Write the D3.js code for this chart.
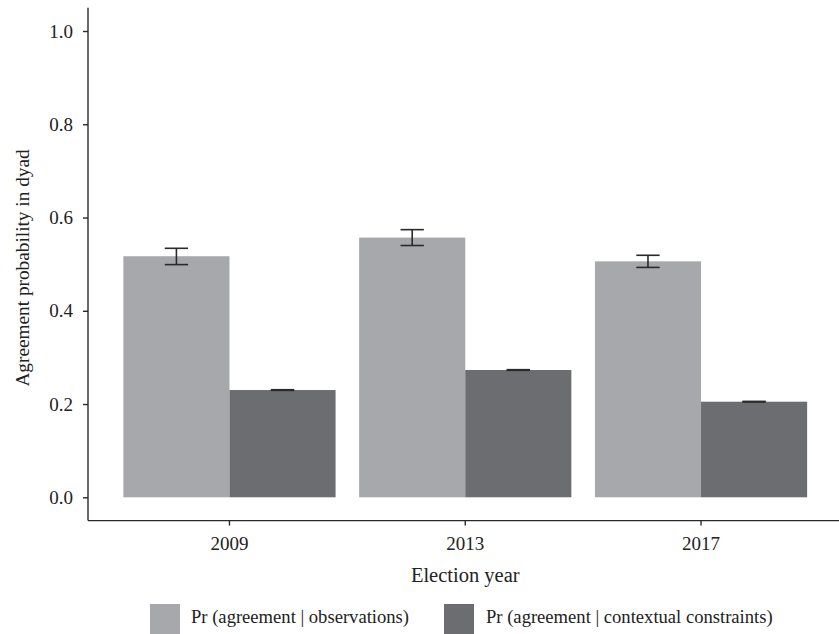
<!DOCTYPE html>
<meta charset="utf-8">
<style type="text/css">
	body { margin: 0; background: #fff; }
	text { font-family: "Liberation Serif", "DejaVu Serif", serif; fill: #222; }
	.axis path, .axis line { stroke: #2a2a2a; stroke-width: 1.4; }
	.err { stroke: #2a2a2a; stroke-width: 1.6; fill: none; }
</style>
<svg width="839" height="634"></svg>
<script src="https://d3js.org/d3.v7.min.js"></script>
<script type="text/javascript">
	// chart data
	var years = ["2009", "2013", "2017"];
	var series = ["observations", "constraints"];
	var seriesLabels = ["Pr (agreement | observations)", "Pr (agreement | contextual constraints)"];
	var obsValues = [0.517, 0.557, 0.506];
	var obsLow = [0.499, 0.540, 0.493];
	var obsHigh = [0.534, 0.574, 0.519];
	var conValues = [0.230, 0.273, 0.205];
	var conLow = [0.2293, 0.2723, 0.2043];
	var conHigh = [0.2307, 0.2737, 0.2057];
	var yTicks = [0, 0.2, 0.4, 0.6, 0.8, 1.0];

	var svg = d3.select("svg");
	var colors = d3.scaleOrdinal().domain(series).range(["#a7a8ab", "#6c6d70"]);

	var mLeft = 88, mRight = 842.5, mTop = 7.7, mBottom = 520.6;

	var x = d3.scaleBand().domain(years).range([mLeft, mRight]).paddingInner(0.1).paddingOuter(0.15);
	var xs = d3.scaleBand().domain(series).range([0, x.bandwidth()]).padding(0);
	var y = d3.scaleLinear().domain([-0.05, 1.05]).range([mBottom, mTop]);

	var rows = years.map(function(yr, i) {
		return [
			{year: yr, key: "observations", v: obsValues[i], lo: obsLow[i], hi: obsHigh[i]},
			{year: yr, key: "constraints", v: conValues[i], lo: conLow[i], hi: conHigh[i]}
		];
	});

	var g = svg.append("g").selectAll("g").data(rows).enter().append("g")
		.attr("transform", function(d) { return "translate(" + x(d[0].year) + ",0)"; });

	g.selectAll("rect").data(function(d) { return d; }).enter().append("rect")
		.attr("x", function(d) { return xs(d.key); })
		.attr("width", xs.bandwidth())
		.attr("y", function(d) { return y(d.v); })
		.attr("height", function(d) { return y(0) - y(d.v); })
		.attr("fill", function(d) { return colors(d.key); });

	var capW = xs.bandwidth() * 0.22;
	var eb = g.selectAll("g.eb").data(function(d) { return d; }).enter().append("g").attr("class", "err");
	eb.append("line")
		.attr("x1", function(d) { return xs(d.key) + xs.bandwidth() / 2; })
		.attr("x2", function(d) { return xs(d.key) + xs.bandwidth() / 2; })
		.attr("y1", function(d) { return y(d.lo); })
		.attr("y2", function(d) { return y(d.hi); });
	eb.append("line")
		.attr("x1", function(d) { return xs(d.key) + xs.bandwidth() / 2 - capW / 2; })
		.attr("x2", function(d) { return xs(d.key) + xs.bandwidth() / 2 + capW / 2; })
		.attr("y1", function(d) { return y(d.lo); })
		.attr("y2", function(d) { return y(d.lo); });
	eb.append("line")
		.attr("x1", function(d) { return xs(d.key) + xs.bandwidth() / 2 - capW / 2; })
		.attr("x2", function(d) { return xs(d.key) + xs.bandwidth() / 2 + capW / 2; })
		.attr("y1", function(d) { return y(d.hi); })
		.attr("y2", function(d) { return y(d.hi); });

	// axes
	var yAxis = svg.append("g").attr("class", "axis").attr("transform", "translate(" + mLeft + ",0)")
		.call(d3.axisLeft(y).tickValues(yTicks).tickFormat(d3.format(".1f")).tickSize(5).tickSizeOuter(0).tickPadding(10));
	yAxis.select(".domain").attr("d", "M0," + mTop + "V" + mBottom);
	yAxis.selectAll("text").style("font-size", "19px").attr("fill", "#222");

	var xAxis = svg.append("g").attr("class", "axis").attr("transform", "translate(0," + mBottom + ")")
		.call(d3.axisBottom(x).tickSize(5).tickSizeOuter(0).tickPadding(11));
	xAxis.select(".domain").attr("d", "M" + mLeft + ",0H839");
	xAxis.selectAll("text").style("font-size", "19px").attr("fill", "#222");

	svg.append("text").attr("x", x("2013") + x.bandwidth() / 2).attr("y", 582)
		.attr("text-anchor", "middle").style("font-size", "20.5px").text("Election year");

	svg.append("text").attr("transform", "translate(29,268) rotate(-90)")
		.attr("text-anchor", "middle").style("font-size", "19.3px").text("Agreement probability in dyad");

	// legend
	var legX = [150, 444];
	var leg = svg.append("g").selectAll("g").data(series).enter().append("g")
		.attr("transform", function(d, i) { return "translate(" + legX[i] + ",604)"; });
	leg.append("rect").attr("width", 30).attr("height", 30).attr("fill", function(d) { return colors(d); });
	leg.append("text").attr("x", function(d, i) { return i === 0 ? 41 : 42; }).attr("y", 19)
		.style("font-size", "18.6px").text(function(d, i) { return seriesLabels[i]; });
</script>
